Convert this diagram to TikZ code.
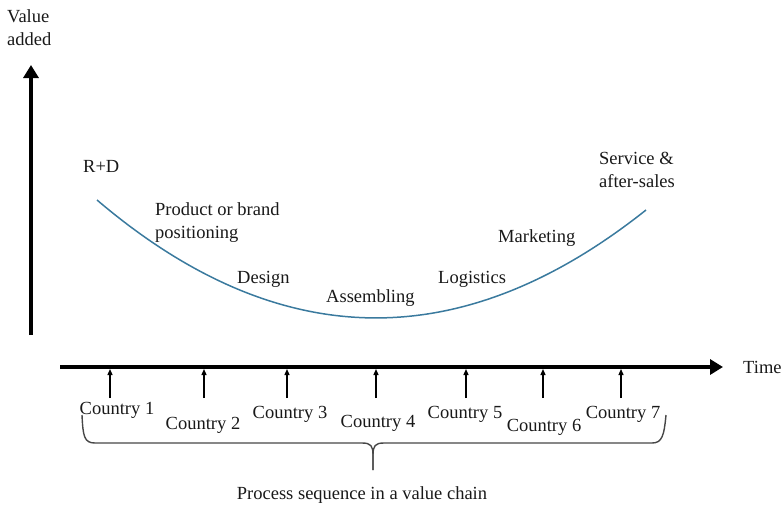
\documentclass[tikz,border=0pt]{standalone}
\usepackage{fontspec}
\setmainfont{Liberation Serif}
\newfontfamily\lserif{Liberation Serif}
\usetikzlibrary{arrows.meta}
\definecolor{curveblue}{RGB}{58,122,158}
\definecolor{txt}{RGB}{25,25,25}
\begin{document}
\begin{tikzpicture}[x=1pt,y=1pt,
  lbl/.style={inner sep=0pt, font=\lserif\fontsize{18.5}{23}\selectfont, text=txt},
  axis/.style={line width=4pt, -{Triangle[width=15pt,length=13pt]}},
  tick/.style={line width=1.3pt, -{Triangle[width=5pt,length=6pt]}},
  ucurve/.style={line width=1.5pt, draw=curveblue},
  bracepath/.style={line width=1.4pt, draw=txt!80}]
\useasboundingbox (0,0) rectangle (781,-506);
% axes
\coordinate (yb) at (31,-335);
\coordinate (yt) at (31,-65);
\coordinate (xl) at (60,-367);
\coordinate (xr) at (723,-367);
\draw[axis] (yb) -- (yt);
\draw[axis] (xl) -- (xr);
\node[lbl, anchor=base west, align=left] (va) at (7,-45) {Value\\added};
\node[lbl, anchor=base west] (time) at (743,-373) {Time};
% U curve
\coordinate (cs) at (97,-200);
\coordinate (ce) at (646,-210);
\draw[ucurve] (cs) .. controls (278,-354) and (461,-357) .. (ce);
% stage labels
\node[lbl, anchor=base west] (rd) at (83,-172) {R+D};
\node[lbl, anchor=base west, align=left] (pb) at (155,-238) {Product or brand\\positioning};
\node[lbl, anchor=base west] (des) at (237,-283) {Design};
\node[lbl, anchor=base west] (asm) at (326,-302) {Assembling};
\node[lbl, anchor=base west] (log) at (438,-283) {Logistics};
\node[lbl, anchor=base west] (mkt) at (498,-242) {Marketing};
\node[lbl, anchor=base west, align=left] (svc) at (599,-187) {Service \&\\after-sales};
% countries
\foreach \i/\x/\cx/\b in {1/110/117/414, 2/204/203/429, 3/287/290/418, 4/376/378/427, 5/466/465/418, 6/543/544/431, 7/621/623/418}{
  \coordinate (tb\i) at (\x,-398);
  \coordinate (tt\i) at (\x,-369);
  \draw[tick] (tb\i) -- (tt\i);
  \node[lbl, anchor=base] (c\i) at (\cx,-\b) {Country \i};
}
% brace
\coordinate (bl) at (82,-415);
\coordinate (br) at (666,-415);
\coordinate (btip) at (373,-470);
\draw[bracepath] (bl) .. controls (83,-436) and (84,-443) .. (95,-443)
  -- (362,-443) .. controls (371,-443) and (373,-446) .. (373,-455) -- (btip);
\draw[bracepath] (btip) -- (373,-455) .. controls (373,-446) and (375,-443) .. (384,-443)
  -- (652,-443) .. controls (662,-443) and (664,-436) .. (br);
\node[lbl, anchor=base] (proc) at (362,-499) {Process sequence in a value chain};
\end{tikzpicture}
\end{document}
